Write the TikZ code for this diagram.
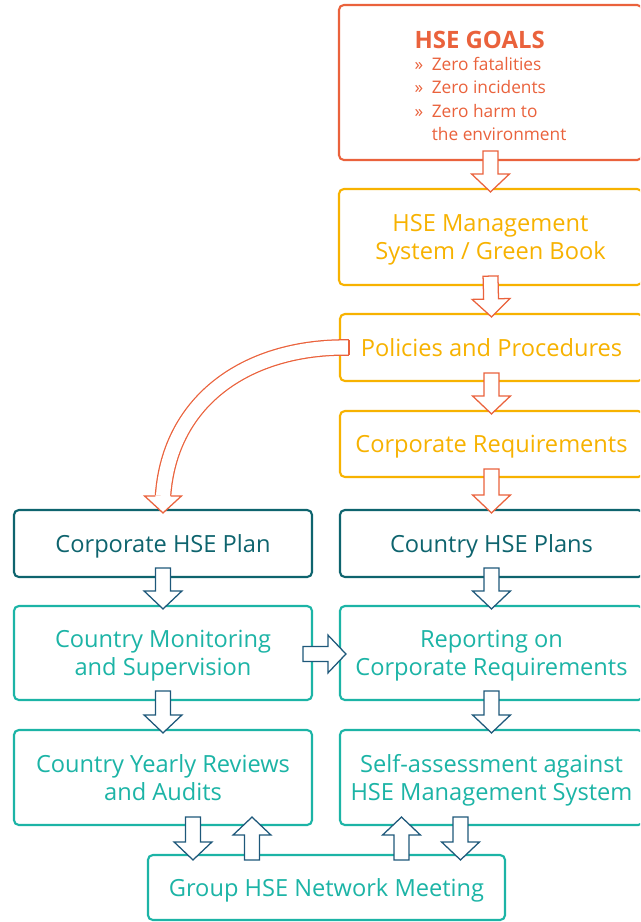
\documentclass[tikz,border=0pt]{standalone}
\usepackage{fontspec}
\setmainfont{Open Sans}
\usetikzlibrary{calc,positioning}

\definecolor{hsered}{RGB}{234,98,60}
\definecolor{hseyellow}{RGB}{247,178,0}
\definecolor{hsedark}{RGB}{14,100,110}
\definecolor{hseteal}{RGB}{28,180,166}
\definecolor{arrblue}{RGB}{30,88,122}

% block arrow: style, from, to
\newcommand\blkarrow[3][]{%
    \filldraw[blockarr,#1] let \p1=#2, \p2=#3,
        \n1={atan2(\y2-\y1,\x2-\x1)},
        \n2={veclen(\x2-\x1,\y2-\y1)-12.8pt}
    in (\p1) ++(\n1+90:5.3pt) -- ++(\n1:\n2) -- ++(\n1+90:8.2pt) -- (\p2)
       -- ++(\n1+226.5:18.6pt) -- ++(\n1+90:8.2pt) -- ++(\n1+180:\n2) -- cycle;}

\begin{document}
\begin{tikzpicture}[
        x=0.025cm, y=-0.025cm,
        every node/.style={
                align=center,
                inner sep=0pt,
                text depth=0pt,
                font=\fontsize{16.8}{19.8}\selectfont
            },
        box/.style={
                rectangle,
                rounded corners=3.5pt,
                line width=1.5pt,
                fill=white
            },
        goalbox/.style={box, draw=hsered, text=hsered, align=left,
                font=\fontsize{12.3}{16.7}\selectfont},
        mgmtbox/.style={box, draw=hseyellow, text=hseyellow},
        planbox/.style={box, draw=hsedark, text=hsedark},
        tealbox/.style={box, draw=hseteal, text=hseteal},
        rightcol/.style={minimum width=7.575cm},
        leftcol/.style={minimum width=7.45cm},
        blockarr/.style={fill=white, line width=0.9pt, line join=miter},
        redarr/.style={draw=hsered},
        bluearr/.style={draw=arrblue}
    ]

    \clip (0,0) rectangle (640,922);

    % right column
    \node[goalbox, rightcol, minimum height=3.875cm] (goals) at (490.5,82.5)
        {\rule{0pt}{17pt}{\fontsize{17}{20}\selectfont\bfseries HSE GOALS}\\[-1pt]
         »\hspace{0.5em}Zero fatalities\\
         »\hspace{0.5em}Zero incidents\\
         »\hspace{0.5em}Zero harm to\\
         \phantom{»}\hspace{0.5em}the environment};
    \node[mgmtbox, rightcol, minimum height=2.4cm] (hsems) at (490.5,237)
        {HSE Management\\System / Green Book};
    \node[mgmtbox, rightcol, minimum height=1.675cm] (policies) at (491.5,347.5)
        {Policies and Procedures};
    \node[mgmtbox, rightcol, minimum height=1.65cm] (corpreq) at (491.5,444)
        {Corporate Requirements};
    \node[planbox, rightcol, minimum height=1.675cm] (ctryplans) at (491.5,543.5)
        {Country HSE Plans};
    \node[tealbox, rightcol, minimum height=2.35cm] (reporting) at (491.5,653)
        {Reporting on\\Corporate Requirements};
    \node[tealbox, rightcol, minimum height=2.375cm] (selfassess) at (491.5,777.5)
        {Self-assessment against\\HSE Management System};

    % left column
    \node[planbox, leftcol, minimum height=1.675cm] (corpplan) at (163,543.5)
        {Corporate HSE Plan};
    \node[tealbox, leftcol, minimum height=2.35cm] (monitor) at (163,653)
        {Country Monitoring\\and Supervision};
    \node[tealbox, leftcol, minimum height=2.375cm] (reviews) at (163,777.5)
        {Country Yearly Reviews\\and Audits};

    \node[tealbox, minimum width=8.925cm, minimum height=1.625cm] (network) at (326.5,887.5)
        {Group HSE Network Meeting};

    % straight arrows
    \blkarrow[redarr]{($(goals.south)+(0,-10)$)}{($(hsems.north)+(0,4)$)}
    \blkarrow[redarr]{($(hsems.south)+(0,-10)$)}{($(policies.north)+(0,4)$)}
    \blkarrow[redarr]{($(policies.south)+(0,-9)$)}{($(corpreq.north)+(0,4)$)}
    \blkarrow[redarr]{($(corpreq.south)+(0,-9)$)}{($(ctryplans.north)+(0,4)$)}
    \blkarrow[bluearr]{($(corpplan.south)+(0,-10)$)}{($(monitor.north)+(0,4)$)}
    \blkarrow[bluearr]{($(ctryplans.south)+(0,-10)$)}{($(reporting.north)+(0,4)$)}
    \blkarrow[bluearr]{($(monitor.south)+(0,-10)$)}{($(reviews.north)+(0,4)$)}
    \blkarrow[bluearr]{($(reporting.south)+(0,-10)$)}{($(selfassess.north)+(0,4)$)}
    \blkarrow[bluearr]{($(monitor.east)+(-10,1)$)}{($(reporting.west)+(7,1)$)}
    \blkarrow[bluearr]{($(reviews.south)+(30,-9)$)}{($(network.north -| reviews.south)+(30,6)$)}
    \blkarrow[bluearr]{($(network.north -| reviews.south)+(89,6)$)}{($(reviews.south)+(89,-9)$)}
    \blkarrow[bluearr]{($(network.north -| selfassess.south)+(-90,6)$)}{($(selfassess.south)+(-90,-9)$)}
    \blkarrow[bluearr]{($(selfassess.south)+(-31,-9)$)}{($(network.north -| selfassess.south)+(-31,6)$)}

    % curved arrow
    \coordinate (cstart) at ($(policies.west)+(10,0)$);
    \coordinate (ctip) at ($(corpplan.north)+(0,4)$);
    \draw[hsered, line width=0.9pt, double=white, double distance=10pt]
        (cstart) .. controls (250,346) and ($(ctip)+(7,-115)$) .. ($(ctip)+(0,-17)$);
    \draw[hsered, line width=0.9pt] ($(cstart)+(0,-7.7)$) -- ($(cstart)+(0,7.7)$);
    \filldraw[blockarr, redarr] ($(ctip)+(-7.7,-17)$) -- ($(ctip)+(-18.5,-17)$) -- (ctip)
        -- ($(ctip)+(18.5,-17)$) -- ($(ctip)+(7.7,-17)$);

\end{tikzpicture}
\end{document}
